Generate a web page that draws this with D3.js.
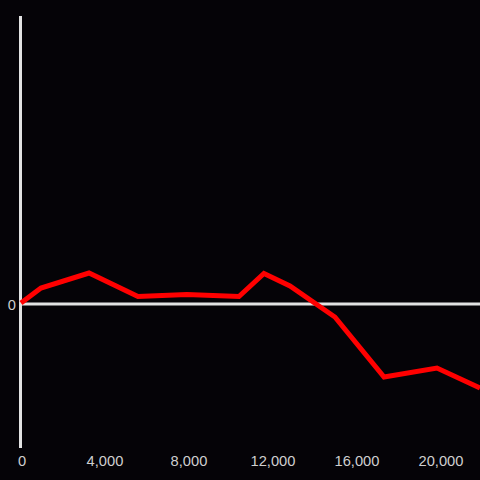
<!DOCTYPE html>
<html lang="en">
<head>
  <meta charset="UTF-8">
  <title>Line chart</title>
  <style type="text/css">
    body{
      margin: 0;
      background: #050307;
    }
    .tick-label{
      font-family: "Liberation Sans", Arial, sans-serif;
      font-size: 14.7px;
      fill: #cfcfcf;
    }
  </style>
  <script type="text/javascript" src="https://d3js.org/d3.v7.min.js"></script>
</head>
<body>
<script type="text/javascript">
  // values
  var xValues = [0, 950, 3240, 5570, 7900, 10380, 11570, 12810, 14950, 17290, 19810, 21860];
  var yValues = [1, 16, 31, 7.5, 9.5, 7.5, 30.5, 18, -13, -73, -64, -84];
  var xTicks = [0, 4000, 8000, 12000, 16000, 20000];
  var yTicks = [0];

  var data = xValues.map(function(x, i){ return {x: x, y: yValues[i]}; });

  var width = 480, height = 480;

  var svg = d3.select('body')
    .append('svg')
    .attr('width', width)
    .attr('height', height)
    .style('display', 'block');

  svg.append('rect')
    .attr('width', width)
    .attr('height', height)
    .attr('fill', '#050307');

  var xScale = d3.scaleLinear()
    .domain([0, 21860])
    .range([21, 480]);

  var yScale = d3.scaleLinear()
    .domain([-144, 288])
    .range([448, 16]);

  // vertical axis line
  svg.append('line')
    .attr('x1', 20.5).attr('x2', 20.5)
    .attr('y1', yScale.range()[1]).attr('y2', yScale.range()[0])
    .attr('stroke', '#e2e2e2')
    .attr('stroke-width', 3);

  // zero line
  svg.append('line')
    .attr('x1', 20).attr('x2', width)
    .attr('y1', yScale(0)).attr('y2', yScale(0))
    .attr('stroke', '#e2e2e2')
    .attr('stroke-width', 3);

  svg.selectAll('.xlab')
    .data(xTicks)
    .enter().append('text')
    .attr('class', 'tick-label')
    .attr('x', function(d){ return xScale(d) + (d === 0 ? 1 : 0); })
    .attr('y', 466)
    .attr('text-anchor', 'middle')
    .text(function(d){ return d3.format(',')(d); });

  svg.selectAll('.ylab')
    .data(yTicks)
    .enter().append('text')
    .attr('class', 'tick-label')
    .attr('x', 16)
    .attr('y', function(d){ return yScale(d) + 5.5; })
    .attr('text-anchor', 'end')
    .text(function(d){ return d; });

  var line = d3.line()
    .x(function(d){ return xScale(d.x); })
    .y(function(d){ return yScale(d.y); });

  svg.append('path')
    .datum(data)
    .attr('d', line)
    .attr('fill', 'none')
    .attr('stroke', '#ff0000')
    .attr('stroke-width', 5)
    .attr('stroke-linejoin', 'miter');
</script>
</body>
</html>
